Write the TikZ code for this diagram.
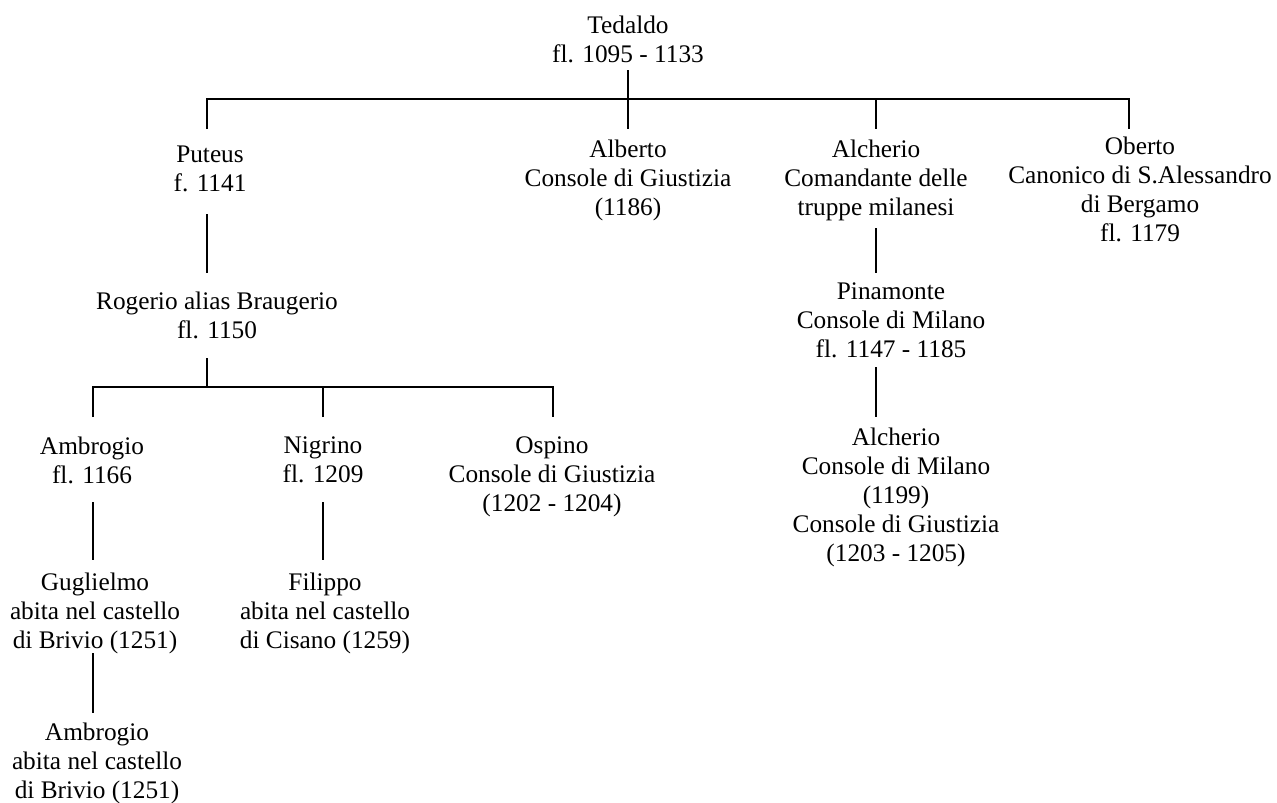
\documentclass[tikz,border=0pt]{standalone}
\usepackage{fontspec}
\setmainfont{Liberation Serif}
\usepackage{tikz}

\begin{document}
\begin{tikzpicture}[x=1pt, y=1pt,
    main/.style = {align=center, anchor=north, inner sep=0pt, font=\fontsize{25.3}{29}\selectfont},
    link/.style = {line width=2.8pt}]
    \useasboundingbox (0,0) rectangle (1277,-803);

    \node[main] (ted) at (628,-16) {Tedaldo\\fl. 1095 - 1133};
    \node[main] (put) at (210,-146) {Puteus\\f. 1141};
    \node[main] (alb) at (628,-140) {Alberto\\Console di Giustizia\\(1186)};
    \node[main] (alc) at (876,-140) {Alcherio\\Comandante delle\\truppe milanesi};
    \node[main] (obe) at (1140,-137) {Oberto\\Canonico di S.Alessandro\\di Bergamo\\fl. 1179};
    \node[main] (rog) at (217,-292) {Rogerio alias Braugerio\\fl. 1150};
    \node[main] (pin) at (891,-283) {Pinamonte\\Console di Milano\\fl. 1147 - 1185};
    \node[main] (amb) at (92,-437) {Ambrogio\\fl. 1166};
    \node[main] (nig) at (323,-437) {Nigrino\\fl. 1209};
    \node[main] (osp) at (552,-437) {Ospino\\Console di Giustizia\\(1202 - 1204)};
    \node[main] (alc2) at (896,-428) {Alcherio\\Console di Milano\\(1199)\\Console di Giustizia\\(1203 - 1205)};
    \node[main] (gug) at (95,-573) {Guglielmo\\abita nel castello\\di Brivio (1251)};
    \node[main] (fil) at (325,-573) {Filippo\\abita nel castello\\di Cisano (1259)};
    \node[main] (amb2) at (97,-723) {Ambrogio\\abita nel castello\\di Brivio (1251)};

    \coordinate (tl) at (207,-99);
    \coordinate (tr) at (1129,-99);
    \coordinate (bl) at (93,-387);
    \coordinate (br) at (553,-387);

    \draw[link] ([yshift=-54pt]ted.north) -- ([yshift=11pt]alb.north);
    \draw[link] ([yshift=17pt]put.north -| tl) -- (tl) -- (tr) -- ([yshift=8pt]obe.north -| tr);
    \draw[link] (alc.north |- tl) -- ([yshift=11pt]alc.north);
    \draw[link] ([yshift=-88pt]alc.north) -- ([yshift=10pt]pin.north -| alc.north);
    \draw[link] ([yshift=-84pt]pin.north -| alc.north) -- ([yshift=11pt]alc2.north -| alc.north);
    \draw[link] ([yshift=-68pt]put.north -| tl) -- ([yshift=19pt]rog.north -| tl);
    \draw[link] ([yshift=-66pt]rog.north -| tl) -- (tl |- bl);
    \draw[link] ([yshift=20pt]amb.north -| bl) -- (bl) -- (br) -- ([yshift=20pt]osp.north -| br);
    \draw[link] ([yshift=20pt]nig.north) -- (nig.north |- bl);
    \draw[link] ([yshift=-65pt]amb.north -| bl) -- ([yshift=13pt]gug.north -| bl);
    \draw[link] ([yshift=-65pt]nig.north) -- ([yshift=13pt]fil.north -| nig.north);
    \draw[link] ([yshift=-80pt]gug.north -| bl) -- ([yshift=10pt]amb2.north -| bl);

    \end{tikzpicture}
\end{document}
